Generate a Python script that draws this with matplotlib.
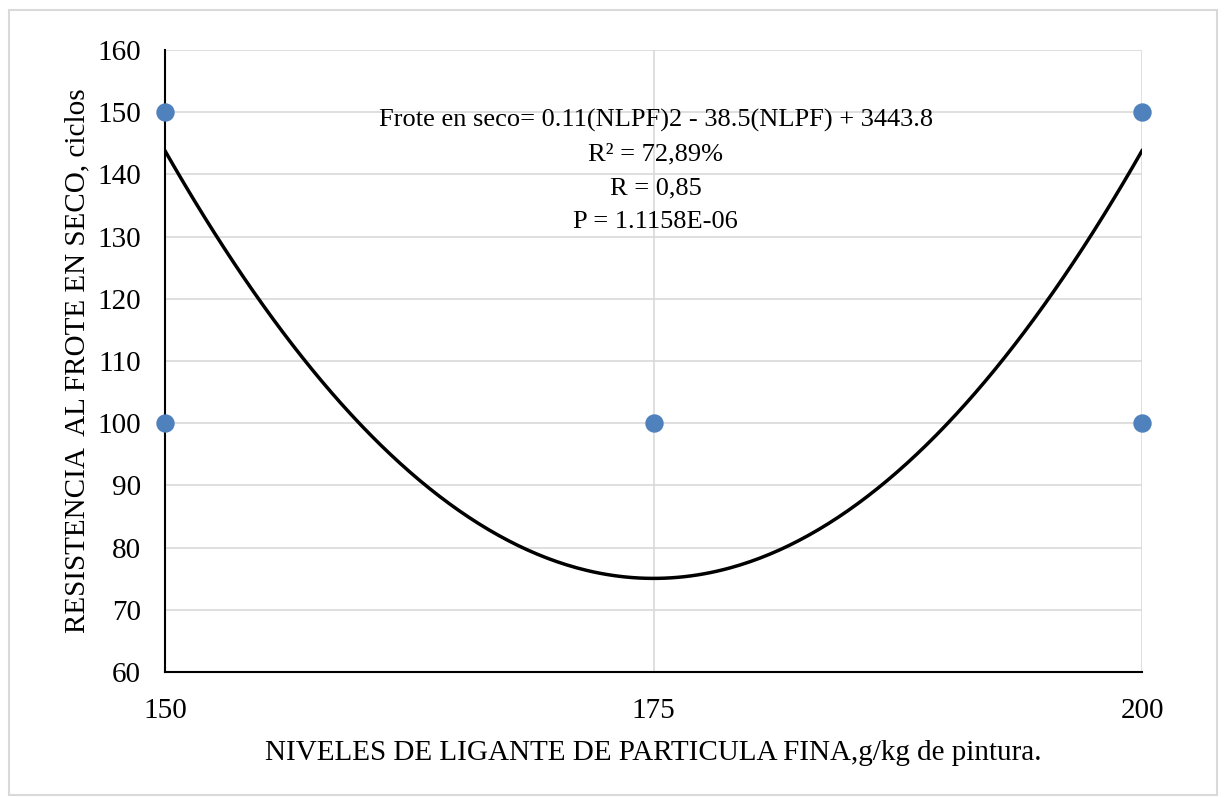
import matplotlib
matplotlib.use("Agg")
import matplotlib.pyplot as plt
import numpy as np
from matplotlib.patches import Rectangle

plt.rcParams['font.family'] = ['Liberation Serif', 'DejaVu Serif']

# data
x_points = [150, 150, 175, 200, 200]
y_points = [150, 100, 100, 150, 100]
# trendline coefficients (quadratic): a*x^2 + b*x + c
coef_a, coef_b, coef_c = 0.11, -38.5, 3443.8
x_ticks = [150, 175, 200]
y_ticks = [60, 70, 80, 90, 100, 110, 120, 130, 140, 150, 160]
annot_lines = ["Frote en seco= 0.11(NLPF)2 - 38.5(NLPF) + 3443.8",
               "R² = 72,89%", "R = 0,85", "P = 1.1158E-06"]

fig = plt.figure(figsize=(12.24, 7.97), dpi=100)
fig.patches.append(Rectangle((9/1224, 1 - 795/797), (1217-9)/1224, (795-10)/797,
                             transform=fig.transFigure, fill=False,
                             edgecolor='#d9d9d9', linewidth=1.5))
ax = fig.add_axes([165/1224, 1 - 672/797, (1142-165)/1224, (672-50)/797])

xs = np.linspace(150, 200, 300)
ys = coef_a * xs**2 + coef_b * xs + coef_c
ax.plot(xs, ys, color='black', linewidth=2.5, zorder=3)
ax.scatter(x_points, y_points, s=150, color='#4f81bd', zorder=4, clip_on=False)

ax.set_xlim(150, 200)
ax.set_ylim(60, 160)
ax.set_xticks(x_ticks)
ax.set_yticks(y_ticks)
ax.grid(True, color='#d9d9d9', linewidth=1.2)
ax.set_axisbelow(True)
for s in ['top', 'right']:
    ax.spines[s].set_visible(False)
ax.spines['left'].set_linewidth(1.5)
ax.spines['bottom'].set_linewidth(1.5)
ax.tick_params(length=0, labelsize=21)
ax.tick_params(axis='y', pad=17.5)
ax.tick_params(axis='x', pad=18.5)

ax.set_xlabel("NIVELES DE LIGANTE DE PARTICULA FINA,g/kg de pintura.", fontsize=21, labelpad=11.5)
ax.set_ylabel("RESISTENCIA  AL FROTE EN SECO, ciclos", fontsize=21, labelpad=4.5)

for i, t in enumerate(annot_lines):
    ax.text(175.12, 148.7 - i * 5.45, t, ha='center', va='center', fontsize=19)

fig.savefig("out.png", dpi=100, facecolor='white')
